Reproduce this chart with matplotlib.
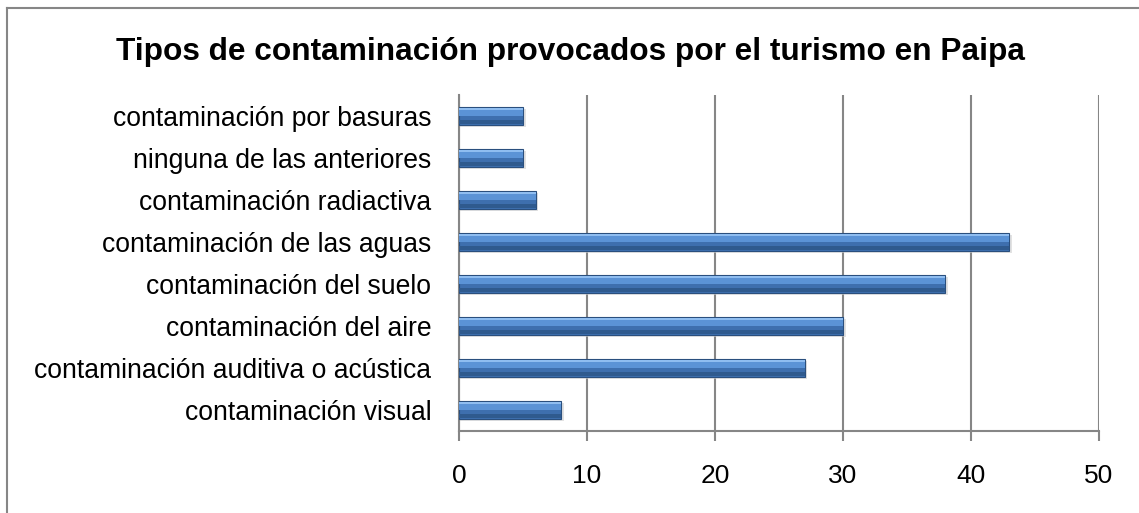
import matplotlib.pyplot as plt
from matplotlib.lines import Line2D

plt.rcParams['font.family'] = ['Liberation Sans', 'DejaVu Sans']

# data, bottom to top as drawn
categories = [
    "contaminación visual",
    "contaminación auditiva o acústica",
    "contaminación del aire",
    "contaminación del suelo",
    "contaminación de las aguas",
    "contaminación radiactiva",
    "ninguna de las anteriores",
    "contaminación por basuras",
]
values = [8, 27, 30, 38, 43, 6, 5, 5]
xticks = [0, 10, 20, 30, 40, 50]

fig = plt.figure(figsize=(11.39, 5.13), dpi=100)
ax = fig.add_axes([459 / 1139, 1 - 431 / 513, 640 / 1139, 336 / 513])

pos = list(range(len(categories)))

# soft shadow, main bar, then strips to fake the bevelled gradient
ax.barh([p - 0.05 for p in pos], [v + 0.2 for v in values], height=0.42,
        color='#cfcfcf', alpha=0.6, zorder=2)
ax.barh(pos, values, height=0.42, color='#3e6fae', edgecolor='#2a4f7e',
        linewidth=0.8, zorder=3)
ax.barh([p + 0.09 for p in pos], values, height=0.2, color='#5b93d6',
        linewidth=0, zorder=4)
ax.barh([p + 0.17 for p in pos], values, height=0.05, color='#8fbdf0',
        linewidth=0, zorder=5)
ax.barh([p - 0.15 for p in pos], values, height=0.1, color='#2f5a8e',
        linewidth=0, zorder=4)

ax.set_xlim(0, 50)
ax.set_ylim(-0.5, len(categories) - 0.5)
ax.set_xticks(xticks)
ax.set_yticks(pos)
ax.set_yticklabels(categories, fontsize=19.1)
ax.tick_params(axis='y', length=0, pad=20)
ax.tick_params(axis='x', labelsize=19, length=7, width=1.5, color='#868686',
               pad=17)

ax.grid(axis='x', color='#868686', linewidth=1.5, zorder=0)
for s in ['top', 'right']:
    ax.spines[s].set_visible(False)
for s in ['left', 'bottom']:
    ax.spines[s].set_color('#868686')
    ax.spines[s].set_linewidth(1.5)

fig.text(571 / 1139, 1 - 52 / 513, "Tipos de contaminación provocados por el turismo en Paipa",
         ha='center', va='center', fontsize=22.8, fontweight='bold')

# chart frame (only the left and top edges fall inside the picture)
fig.add_artist(Line2D([7 / 1139, 7 / 1139], [0, 1 - 8 / 513],
                      transform=fig.transFigure, color='#868686', linewidth=1.5))
fig.add_artist(Line2D([7 / 1139, 1], [1 - 8 / 513, 1 - 8 / 513],
                      transform=fig.transFigure, color='#868686', linewidth=1.5))

fig.savefig('out.png', dpi=100)
